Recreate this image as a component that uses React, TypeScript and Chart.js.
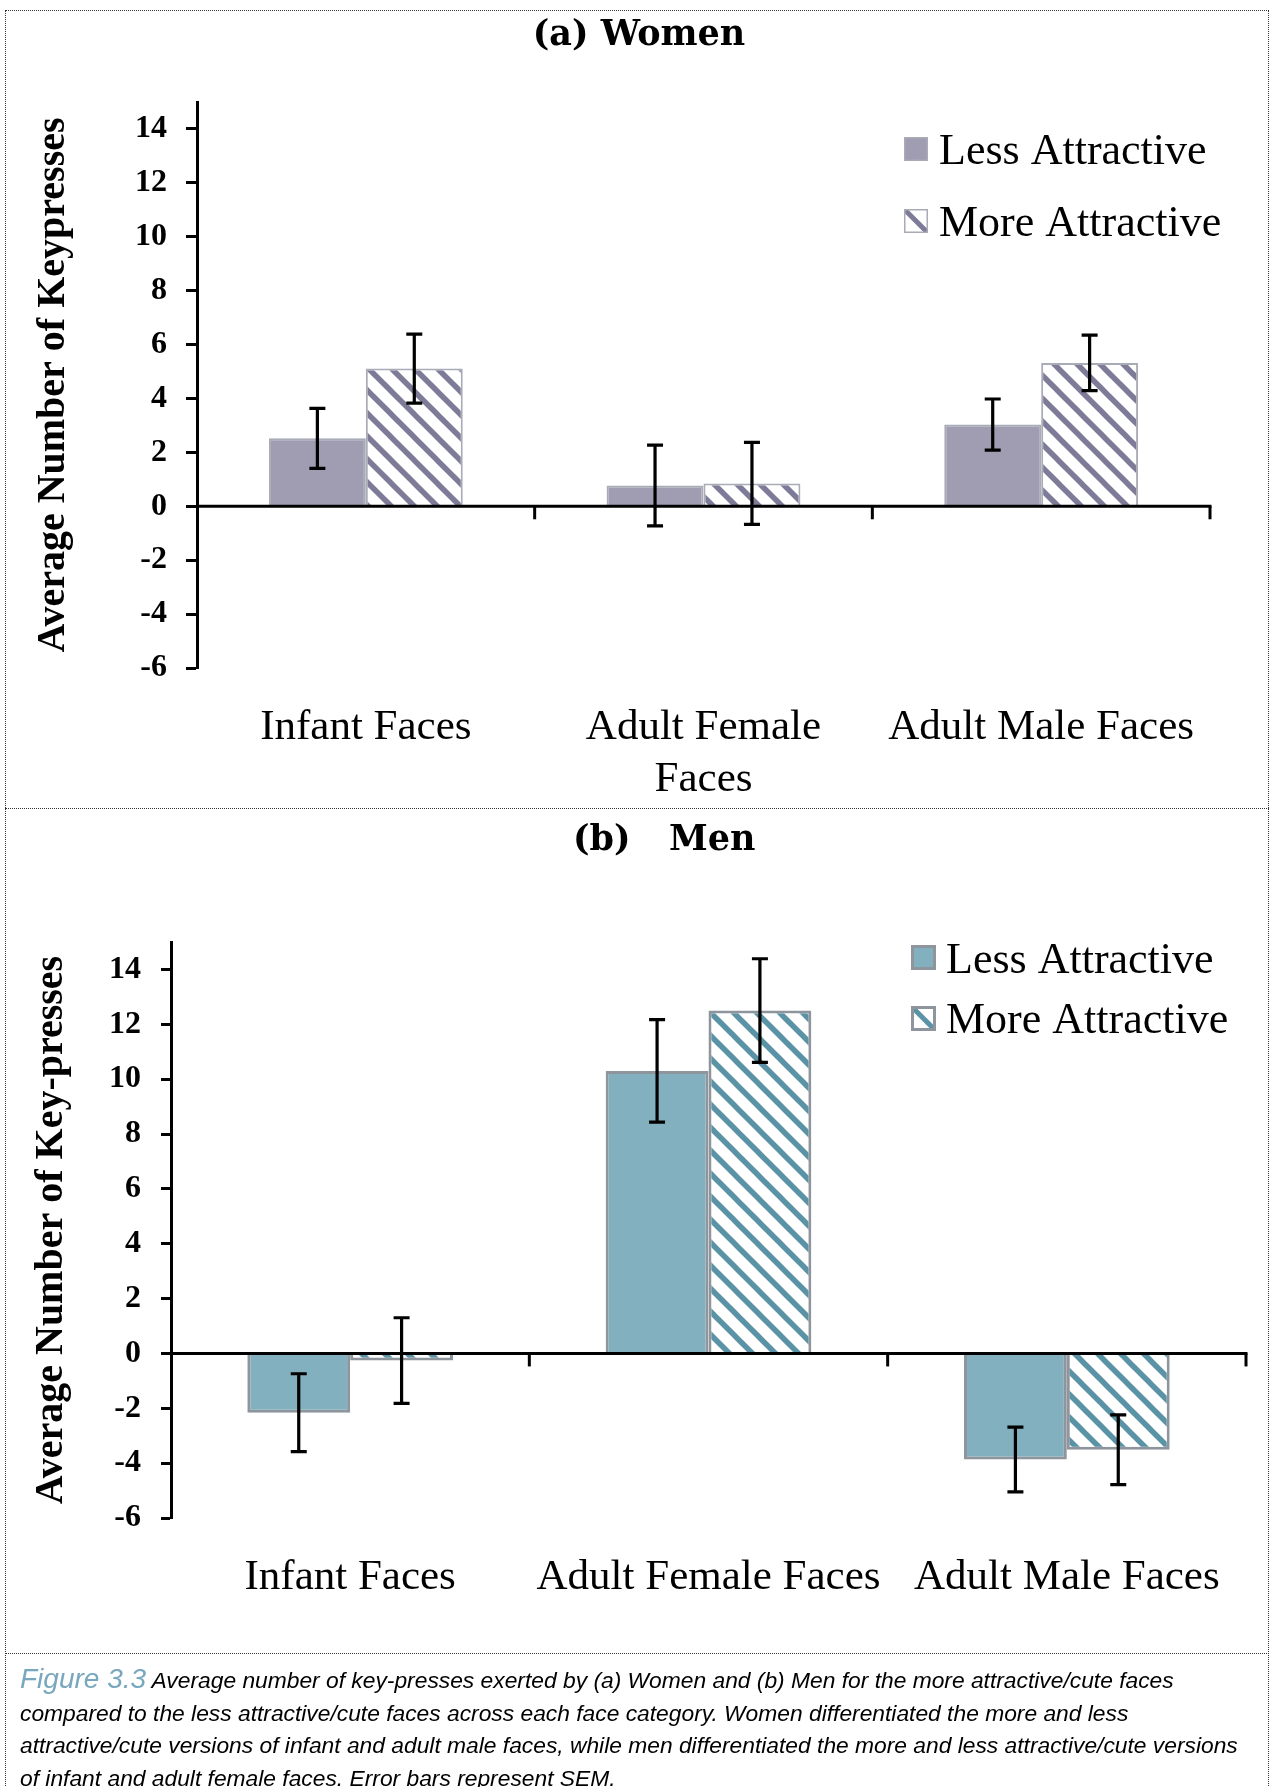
import React, { useEffect, useRef } from "react";
import { Chart, registerables } from "chart.js";

Chart.register(...registerables);

// ---------------- data ----------------
const womenCategories = [["Infant Faces"], ["Adult Female", "Faces"], ["Adult Male Faces"]];
const menCategories = ["Infant Faces", "Adult Female Faces", "Adult Male Faces"];
const seriesLabels = ["Less Attractive", "More Attractive"];

const womenLess = [2.52, 0.77, 3.03];
const womenLessSem = [1.11, 1.5, 0.95];
const womenMore = [5.11, 0.85, 5.32];
const womenMoreSem = [1.28, 1.52, 1.03];

const menLess = [-2.16, 10.3, -3.87];
const menLessSem = [1.42, 1.87, 1.18];
const menMore = [-0.26, 12.5, -3.51];
const menMoreSem = [1.56, 1.89, 1.27];

const yTickValues = [-6, -4, -2, 0, 2, 4, 6, 8, 10, 12, 14];
const yMin = -6;
const yMax = 15;

const womenTitle = "(a) Women";
const menTitleParts = ["(b)", "Men"];
const womenYTitle = "Average Number of Keypresses";
const menYTitle = "Average Number of Key-presses";

const captionLead = "Figure 3.3";
const captionLines = [
  " Average number of key-presses exerted by (a) Women and (b) Men for the more attractive/cute faces",
  "compared to the less attractive/cute faces across each face category. Women differentiated the more and less",
  "attractive/cute versions of infant and adult male faces, while men differentiated the more and less attractive/cute versions",
  "of infant and adult female faces. Error bars represent SEM.",
];

// ---------------- helpers ----------------
function makeHatch(color: string, period: number, lw: number) {
  const c = document.createElement("canvas");
  c.width = period;
  c.height = period;
  const g = c.getContext("2d") as CanvasRenderingContext2D;
  g.fillStyle = "#ffffff";
  g.fillRect(0, 0, period, period);
  g.strokeStyle = color;
  g.lineWidth = lw;
  g.lineCap = "butt";
  for (const k of [-1, 0, 1]) {
    const cc = k * period;
    g.beginPath();
    g.moveTo(cc - period, -period);
    g.lineTo(cc + 2 * period, 2 * period);
    g.stroke();
  }
  return g.createPattern(c, "repeat") as CanvasPattern;
}

const decorPlugin = {
  id: "panelDecor",
  afterDatasetsDraw(chart: any, _args: any, opts: any) {
    const { ctx, chartArea, scales } = chart;
    const xs = scales.x;
    const ys = scales.y;
    const y0 = ys.getPixelForValue(0);
    ctx.save();
    // zero axis line with category boundary ticks
    ctx.strokeStyle = "#000";
    ctx.lineWidth = 3;
    ctx.beginPath();
    ctx.moveTo(chartArea.left, y0);
    ctx.lineTo(chartArea.right + 1.5, y0);
    ctx.stroke();
    const n = xs.ticks.length;
    for (let i = 1; i <= n; i++) {
      const bx = chartArea.left + ((chartArea.right - chartArea.left) * i) / n;
      ctx.beginPath();
      ctx.moveTo(bx, y0);
      ctx.lineTo(bx, y0 + opts.tickLength);
      ctx.stroke();
    }
    // error bars
    chart.data.datasets.forEach((ds: any, di: number) => {
      const meta = chart.getDatasetMeta(di);
      meta.data.forEach((bar: any, i: number) => {
        const v = ds.data[i];
        const e = ds.errors[i];
        const yt = ys.getPixelForValue(v + e);
        const yb = ys.getPixelForValue(v - e);
        const cx = bar.x;
        ctx.strokeStyle = "#000";
        ctx.lineWidth = 3.2;
        ctx.beginPath();
        ctx.moveTo(cx, yt);
        ctx.lineTo(cx, yb);
        ctx.moveTo(cx - opts.cap / 2, yt);
        ctx.lineTo(cx + opts.cap / 2, yt);
        ctx.moveTo(cx - opts.cap / 2, yb);
        ctx.lineTo(cx + opts.cap / 2, yb);
        ctx.stroke();
      });
    });
    ctx.restore();
  },
  afterDraw(chart: any, _args: any, opts: any) {
    const { ctx } = chart;
    ctx.save();
    // titles
    ctx.fillStyle = "#000";
    ctx.font = "bold 35px 'DejaVu Serif'";
    ctx.textBaseline = "middle";
    opts.titles.forEach((t: any) => {
      ctx.textAlign = t.align;
      ctx.fillText(t.text, t.x, t.y);
    });
    // legend
    const lg = opts.legend;
    chart.data.datasets.forEach((ds: any, di: number) => {
      const bx = lg.boxX;
      const by = lg.boxY[di];
      const s = lg.boxSize;
      if (ds.hatch) {
        ctx.fillStyle = "#ffffff";
        ctx.fillRect(bx, by, s, s);
        ctx.save();
        ctx.beginPath();
        ctx.rect(bx, by, s, s);
        ctx.clip();
        ctx.strokeStyle = ds.hatchColor;
        ctx.lineWidth = lg.stripe;
        ctx.beginPath();
        ctx.moveTo(bx - 2, by - 2);
        ctx.lineTo(bx + s + 2, by + s + 2);
        ctx.stroke();
        ctx.restore();
      } else {
        ctx.fillStyle = ds.backgroundColor;
        ctx.fillRect(bx, by, s, s);
      }
      ctx.strokeStyle = ds.borderColor;
      ctx.lineWidth = lg.boxBorder;
      ctx.strokeRect(bx + lg.boxBorder / 2, by + lg.boxBorder / 2, s - lg.boxBorder, s - lg.boxBorder);
      ctx.fillStyle = "#000";
      ctx.font = "44px 'Liberation Serif'";
      ctx.textAlign = "left";
      ctx.textBaseline = "middle";
      ctx.fillText(ds.label, lg.textX, lg.textY[di]);
    });
    ctx.restore();
  },
};

type Panel = {
  width: number;
  height: number;
  categories: any[];
  less: number[];
  lessSem: number[];
  more: number[];
  moreSem: number[];
  fill: string;
  hatchColor: string;
  border: string;
  borderWidth: number;
  padTop: number;
  padRight: number;
  yAxisWidth: number;
  xAxisHeight: number;
  yTitle: string;
  yTitlePad: number;
  xLabelPad: number;
  yLabelPad: number;
  yTickLength: number;
  titles: any[];
  legend: any;
};

function PanelChart({ p }: { p: Panel }) {
  const ref = useRef<HTMLCanvasElement | null>(null);
  useEffect(() => {
    const canvas = ref.current as HTMLCanvasElement;
    const pattern = makeHatch(p.hatchColor, 23, 5.5);
    const chart = new Chart(canvas, {
      type: "bar",
      data: {
        labels: p.categories,
        datasets: [
          {
            label: seriesLabels[0],
            data: p.less,
            errors: p.lessSem,
            backgroundColor: p.fill,
            borderColor: p.border,
            borderWidth: p.borderWidth,
            hatch: false,
          } as any,
          {
            label: seriesLabels[1],
            data: p.more,
            errors: p.moreSem,
            backgroundColor: pattern,
            borderColor: p.border,
            borderWidth: p.borderWidth,
            hatch: true,
            hatchColor: p.hatchColor,
          } as any,
        ],
      },
      options: {
        animation: false,
        responsive: false,
        maintainAspectRatio: false,
        devicePixelRatio: 1,
        layout: { padding: { left: 0, right: p.padRight, top: p.padTop, bottom: 0 } },
        datasets: { bar: { categoryPercentage: 0.574, barPercentage: 1 } } as any,
        plugins: {
          legend: { display: false },
          tooltip: { enabled: false },
          title: { display: false },
          panelDecor: { tickLength: 13, cap: 16, titles: p.titles, legend: p.legend },
        } as any,
        scales: {
          x: {
            offset: true,
            grid: { display: false },
            border: { display: false },
            ticks: {
              color: "#000",
              font: { family: "'Liberation Serif'", size: 43 },
              padding: p.xLabelPad,
              maxRotation: 0,
              autoSkip: false,
            },
            afterFit: (s: any) => {
              s.height = p.xAxisHeight;
            },
          },
          y: {
            min: yMin,
            max: yMax,
            afterBuildTicks: (s: any) => {
              s.ticks = yTickValues.map((v) => ({ value: v }));
            },
            afterFit: (s: any) => {
              s.width = p.yAxisWidth;
            },
            grid: {
              drawOnChartArea: false,
              drawTicks: true,
              tickLength: p.yTickLength,
              tickWidth: 3,
              tickColor: "#000",
              color: "#000",
            },
            border: { display: true, width: 3, color: "#000" },
            ticks: {
              color: "#000",
              font: { family: "'Liberation Serif'", weight: "bold", size: 32 },
              padding: p.yLabelPad,
            },
            title: {
              display: true,
              text: p.yTitle,
              color: "#000",
              font: { family: "'Liberation Serif'", weight: "bold", size: 40 },
              padding: { top: p.yTitlePad, bottom: 0 },
            },
          },
        } as any,
      },
      plugins: [decorPlugin as any],
    });
    return () => chart.destroy();
  }, [p]);
  return (
    <canvas
      ref={ref}
      width={p.width}
      height={p.height}
      style={{ display: "block", width: p.width, height: p.height }}
    />
  );
}

const womenPanel: Panel = {
  width: 1272,
  height: 808,
  categories: womenCategories,
  less: womenLess,
  lessSem: womenLessSem,
  more: womenMore,
  moreSem: womenMoreSem,
  fill: "#A09DB3",
  hatchColor: "#7E7B99",
  border: "#A9ABB6",
  borderWidth: 2,
  padTop: 102,
  padRight: 62,
  yAxisWidth: 197,
  xAxisHeight: 140,
  yTitle: womenYTitle,
  yTitlePad: 30,
  xLabelPad: 26,
  yLabelPad: 19,
  yTickLength: 11,
  titles: [{ text: womenTitle, x: 639, y: 36, align: "center" }],
  legend: {
    boxX: 904,
    boxY: [137, 209],
    boxSize: 24,
    boxBorder: 1.5,
    stripe: 5,
    textX: 939,
    textY: [152, 224],
  },
};

const menPanel: Panel = {
  width: 1272,
  height: 845,
  categories: menCategories,
  less: menLess,
  lessSem: menLessSem,
  more: menMore,
  moreSem: menMoreSem,
  fill: "#82B0BF",
  hatchColor: "#5A93A5",
  border: "#8F959C",
  borderWidth: 3,
  padTop: 134,
  padRight: 26,
  yAxisWidth: 171,
  xAxisHeight: 135,
  yTitle: menYTitle,
  yTitlePad: 28,
  xLabelPad: 26,
  yLabelPad: 20,
  yTickLength: 10,
  titles: [
    { text: menTitleParts[0], x: 573, y: 33, align: "left" },
    { text: menTitleParts[1], x: 669, y: 33, align: "left" },
  ],
  legend: {
    boxX: 911,
    boxY: [137, 198],
    boxSize: 25,
    boxBorder: 3,
    stripe: 5,
    textX: 946,
    textY: [153, 213],
  },
};

export default function App() {
  useEffect(() => {
    document.body.style.margin = "0";
    document.body.style.background = "#ffffff";
  }, []);
  const dotted = "1px dotted #333";
  return (
    <div style={{ position: "relative", width: 1272, height: 1787, background: "#fff", overflow: "hidden" }}>
      <div style={{ position: "absolute", left: 0, top: 0 }}>
        <PanelChart p={womenPanel} />
      </div>
      <div style={{ position: "absolute", left: 0, top: 808 }}>
        <PanelChart p={menPanel} />
      </div>
      {/* frame */}
      <div
        style={{
          position: "absolute",
          left: 5,
          top: 10,
          width: 1264,
          height: 1800,
          borderLeft: dotted,
          borderRight: dotted,
          borderTop: dotted,
          boxSizing: "border-box",
          pointerEvents: "none",
        }}
      />
      <div style={{ position: "absolute", left: 5, top: 808, width: 1264, borderTop: dotted }} />
      <div style={{ position: "absolute", left: 5, top: 1653, width: 1264, borderTop: dotted }} />
      {/* caption */}
      <div
        style={{
          position: "absolute",
          left: 20,
          top: 1663,
          fontFamily: "'Liberation Sans', Arial, sans-serif",
          fontStyle: "italic",
          fontSize: 22.8,
          lineHeight: "32.5px",
          color: "#000",
          whiteSpace: "nowrap",
        }}
      >
        <div>
          <span style={{ color: "#79A7BD", fontSize: 28, lineHeight: "32.5px" }}>{captionLead}</span>
          {captionLines[0]}
        </div>
        <div>{captionLines[1]}</div>
        <div>{captionLines[2]}</div>
        <div>{captionLines[3]}</div>
      </div>
    </div>
  );
}
